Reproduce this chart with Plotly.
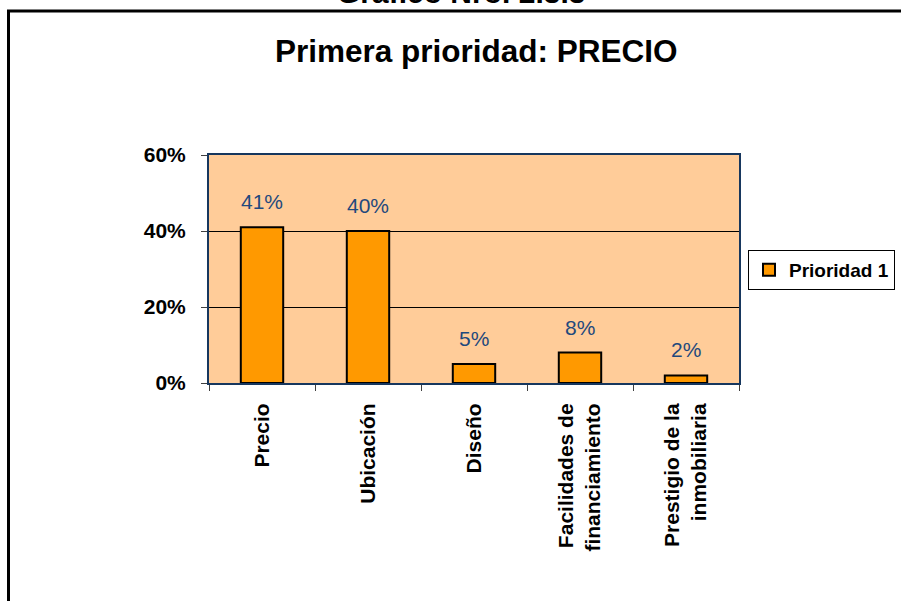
import plotly.graph_objects as go

categories = ["Precio", "Ubicación", "Diseño", "Facilidades de<br>financiamiento", "Prestigio de la<br>inmobiliaria"]
values = [41, 40, 5, 8, 2]
series_name = "Prioridad 1"
y_ticks = [0, 20, 40, 60]
y_tick_labels = ["0%", "20%", "40%", "60%"]
title_text = "Primera prioridad: PRECIO"
header_text = "Gráfico Nro. 2.3.3"

W, H = 901, 601
# plot area in page pixels
L, R, T, B = 209, 739, 155, 383
FONT = "Liberation Sans, Arial, sans-serif"


def px_x(p):
    return (p - L) / (R - L)


def px_y(p):
    return (B - p) / (B - T)


fig = go.Figure()
fig.add_trace(go.Bar(
    x=categories, y=values, name=series_name, width=0.4,
    marker=dict(color="#FF9900", line=dict(color="#000000", width=2)),
    showlegend=True,
))

annotations = []
for c, v in zip(categories, values):
    annotations.append(dict(
        x=c, y=v, xref="x", yref="y", text=f"{v}%", showarrow=False,
        yanchor="bottom", yshift=12,
        font=dict(family=FONT, size=21, color="#1F497D"),
    ))
annotations.append(dict(
    x=px_x(476.5), y=px_y(51), xref="paper", yref="paper", text=title_text,
    showarrow=False, xanchor="center", yanchor="middle",
    font=dict(family=FONT, size=31.5, color="#000000", weight="bold"),
))
annotations.append(dict(
    x=px_x(461), y=px_y(-8), xref="paper", yref="paper", text=header_text,
    showarrow=False, xanchor="center", yanchor="middle",
    font=dict(family=FONT, size=30, color="#000000", weight="bold"),
))

fig.update_layout(
    width=W, height=H,
    margin=dict(l=L, r=W - R, t=T, b=H - B, autoexpand=False),
    paper_bgcolor="#FFFFFF", plot_bgcolor="#FFCC99",
    bargap=0.6,
    annotations=annotations,
    shapes=[dict(type="rect", xref="paper", yref="paper",
                 x0=px_x(8.5), x1=px_x(912), y0=px_y(11), y1=px_y(620),
                 line=dict(color="#000000", width=3), fillcolor="rgba(0,0,0,0)",
                 layer="above")],
    legend=dict(
        x=px_x(748), y=px_y(250), xanchor="left", yanchor="top",
        bordercolor="#000000", borderwidth=1, bgcolor="#FFFFFF",
        font=dict(family=FONT, size=19, color="#000000", weight="bold"),
    ),
    xaxis=dict(
        showline=True, mirror=True, linecolor="#17375E", linewidth=2,
        ticks="outside", tickson="boundaries", ticklen=6, tickcolor="#404040",
        tickangle=-90, ticklabelstandoff=10,
        tickfont=dict(family=FONT, size=21, color="#000000", weight="bold"),
        showgrid=False,
    ),
    yaxis=dict(
        range=[0, 60], tickvals=y_ticks, ticktext=y_tick_labels,
        showline=True, mirror=True, linecolor="#17375E", linewidth=2,
        ticks="outside", ticklen=6, tickcolor="#404040",
        ticklabelstandoff=11,
        tickfont=dict(family=FONT, size=21, color="#000000", weight="bold"),
        showgrid=True, gridcolor="#000000", gridwidth=1, zeroline=False,
    ),
)

fig.write_html(
    "out.html",
    config={"displayModeBar": False},
    post_script="document.body.style.margin='0';document.body.style.overflow='hidden';",
)
